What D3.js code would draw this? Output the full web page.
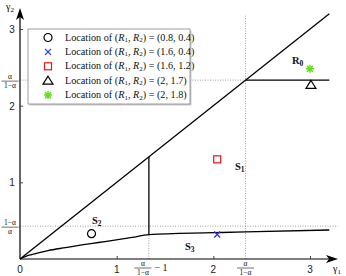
<!DOCTYPE html>
<html>
<head>
<meta charset="utf-8">
<script src="https://cdn.jsdelivr.net/npm/d3@7"></script>
<style>
  body { margin: 0; background: #fff; }
  svg { display: block; }
</style>
</head>
<body>
<script>
const W = 346, H = 276;
const alpha = 0.7;
const a1 = alpha / (1 - alpha);      // alpha/(1-alpha)
const a2 = a1 - 1;                   // alpha/(1-alpha) - 1
const a3 = (1 - alpha) / alpha;      // (1-alpha)/alpha

const xTicks = [1, 2, 3];
const yTicks = [1, 2, 3];
// lower boundary curve (gamma1, gamma2)
const curveX = [0, 0.06, 0.12, 0.29, 0.47, 0.64, 0.81, 0.98, 1.16, a2, 2.0, a1, 3.2];
const curveY = [0, 0.035, 0.058, 0.11, 0.148, 0.183, 0.215, 0.247, 0.282, 0.318, 0.343, 0.355, 0.378];
const diagEnd = 3.2;
// markers
const markerType = ["circle", "cross", "square", "triangle", "star"];
const markerColor = ["#000", "#2233ee", "#ee1111", "#000", "#66dd22"];
const markerX = [0.74, 2.04, 2.04, 3.01, 3.0];
const markerY = [0.33, 0.32, 1.30, 2.27, 2.48];
const legendLabels = ["(0.8, 0.4)", "(1.6, 0.4)", "(1.6, 1.2)", "(2, 1.7)", "(2, 1.8)"];

const svg = d3.select("body").append("svg").attr("width", W).attr("height", H);
const x = d3.scaleLinear().domain([0, 3]).range([20, 310]);
const y = d3.scaleLinear().domain([0, 3]).range([259, 29]);

const serif = "'Liberation Serif', 'DejaVu Serif', serif";
const sans = "'Liberation Sans', Arial, sans-serif";

// dotted guide lines
const dot = svg.append("g").attr("stroke", "#888").attr("stroke-width", 0.8)
  .attr("stroke-dasharray", "1,1.5").attr("fill", "none");
dot.append("line").attr("x1", x(0)).attr("x2", x(a1)).attr("y1", y(a1)).attr("y2", y(a1));
dot.append("line").attr("x1", x(0)).attr("x2", 338).attr("y1", y(a3)).attr("y2", y(a3));
dot.append("line").attr("x1", x(a1)).attr("x2", x(a1)).attr("y1", y(0)).attr("y2", y(diagEnd) + 2);
dot.append("line").attr("x1", x(a2)).attr("x2", x(a2)).attr("y1", y(0)).attr("y2", y(curveY[9]));

// axes
const axisG = svg.append("g").attr("stroke", "#000").attr("stroke-width", 1.2);
axisG.append("line").attr("x1", x(0)).attr("x2", 334).attr("y1", y(0)).attr("y2", y(0));
axisG.append("line").attr("x1", x(0)).attr("x2", x(0)).attr("y1", y(0)).attr("y2", 13);
svg.append("path").attr("d", `M338,${y(0)} L326,${y(0) - 4} L329,${y(0)} L326,${y(0) + 4} Z`).attr("fill", "#000");
svg.append("path").attr("d", `M${x(0)},8 L${x(0) - 4},20 L${x(0)},17 L${x(0) + 4},20 Z`).attr("fill", "#000");

svg.append("g").attr("transform", `translate(0,${y(0)})`)
  .call(d3.axisBottom(x).tickValues(xTicks).tickSizeInner(-3).tickSizeOuter(0).tickFormat(""))
  .call(g => g.select(".domain").remove())
  .call(g => g.selectAll("line").attr("stroke", "#444"));
svg.append("g").attr("transform", `translate(${x(0)},0)`)
  .call(d3.axisLeft(y).tickValues(yTicks).tickSizeInner(-3).tickSizeOuter(0).tickFormat(""))
  .call(g => g.select(".domain").remove())
  .call(g => g.selectAll("line").attr("stroke", "#444"));

const txt = svg.append("g").attr("font-family", sans).attr("font-size", 10).attr("fill", "#222");
[0, 1, 2, 3].forEach(v => {
  txt.append("text").attr("x", x(v)).attr("y", 273).attr("text-anchor", "middle").text(v);
});
yTicks.forEach(v => {
  txt.append("text").attr("x", 12).attr("y", y(v) + 4).attr("text-anchor", "middle").text(v);
});

// fraction labels
function frac(cx, cy, num, den, suffix) {
  const g = svg.append("g").attr("font-family", serif).attr("font-size", 7.5).attr("fill", "#111");
  const w = 17;
  g.append("text").attr("x", cx).attr("y", cy - 2).attr("text-anchor", "middle").text(num);
  g.append("line").attr("x1", cx - w / 2).attr("x2", cx + w / 2).attr("y1", cy).attr("y2", cy)
    .attr("stroke", "#111").attr("stroke-width", 0.6);
  g.append("text").attr("x", cx).attr("y", cy + 6.5).attr("text-anchor", "middle").text(den);
  if (suffix) g.append("text").attr("x", cx + w / 2 + 3).attr("y", cy + 3).attr("font-size", 10).text(suffix);
}
frac(x(a1), 268, "α", "1−α");
frac(x(a2) - 6, 268, "α", "1−α", "− 1");
frac(10, y(a1) + 1, "α", "1−α");
frac(10, y(a3) + 1, "1−α", "α");

// axis titles
svg.append("text").attr("x", 333).attr("y", 272).attr("font-family", serif).attr("font-size", 10)
  .html("γ<tspan font-size='7' dy='2'>1</tspan>");
svg.append("text").attr("x", 6).attr("y", 10).attr("font-family", serif).attr("font-size", 10)
  .html("γ<tspan font-size='7' dy='2'>2</tspan>");

// region boundaries
const lines = svg.append("g").attr("stroke", "#000").attr("stroke-width", 1.3).attr("fill", "none");
lines.append("line").attr("x1", x(0)).attr("y1", y(0)).attr("x2", x(diagEnd)).attr("y2", y(diagEnd));
lines.append("line").attr("x1", x(a1)).attr("y1", y(a1)).attr("x2", x(diagEnd)).attr("y2", y(a1));
lines.append("line").attr("x1", x(a2)).attr("y1", y(curveY[9])).attr("x2", x(a2)).attr("y2", y(a2));
lines.append("path").datum(d3.zip(curveX, curveY))
  .attr("d", d3.line().x(d => x(d[0])).y(d => y(d[1])).curve(d3.curveMonotoneX));

// region labels
function region(px, py, name, sub) {
  svg.append("text").attr("x", px).attr("y", py).attr("font-family", serif).attr("font-weight", "bold")
    .attr("font-size", 10.5).attr("fill", "#111")
    .html(`${name}<tspan font-size='7.5' dy='2'>${sub}</tspan>`);
}
region(92, 224, "S", "2");
region(185, 250, "S", "3");
region(235, 170, "S", "1");
region(292, 64, "R", "0");

// markers
function marker(g, type, color) {
  if (type === "circle") g.append("circle").attr("r", 4).attr("fill", "none").attr("stroke", color).attr("stroke-width", 1.2);
  if (type === "cross") g.append("path").attr("d", "M-3,-3L3,3M-3,3L3,-3").attr("stroke", color).attr("stroke-width", 1.2);
  if (type === "square") g.append("rect").attr("x", -3.5).attr("y", -3.5).attr("width", 7).attr("height", 7)
    .attr("fill", "none").attr("stroke", color).attr("stroke-width", 1.2);
  if (type === "triangle") g.append("path").attr("d", "M0,-4.5L5,3.5L-5,3.5Z").attr("fill", "none")
    .attr("stroke", color).attr("stroke-width", 1.2);
  if (type === "star") g.append("path").attr("d", "M-4,0L4,0M0,-4L0,4M-3,-3L3,3M-3,3L3,-3")
    .attr("stroke", color).attr("stroke-width", 1.5);
}
markerType.forEach((t, i) => {
  marker(svg.append("g").attr("transform", `translate(${x(markerX[i])},${y(markerY[i])})`), t, markerColor[i]);
});

// legend
const lg = svg.append("g").attr("transform", "translate(28,29)");
lg.append("rect").attr("x", 1.5).attr("y", 1.5).attr("width", 162).attr("height", 75).attr("fill", "#ccc");
lg.append("rect").attr("width", 162).attr("height", 75).attr("fill", "#fff").attr("stroke", "#888").attr("stroke-width", 0.8);
legendLabels.forEach((lab, i) => {
  const ry = 8.5 + i * 14.4;
  marker(lg.append("g").attr("transform", `translate(20,${ry})`), markerType[i], markerColor[i]);
  lg.append("text").attr("x", 37).attr("y", ry + 3).attr("font-family", serif).attr("font-size", 10.2).attr("fill", "#111")
    .html(`Location of (<tspan font-style="italic">R</tspan><tspan font-size="7" dy="1.5">1</tspan><tspan dy="-1.5">, </tspan><tspan font-style="italic">R</tspan><tspan font-size="7" dy="1.5">2</tspan><tspan dy="-1.5">) = ${lab}</tspan>`);
});
</script>
</body>
</html>
